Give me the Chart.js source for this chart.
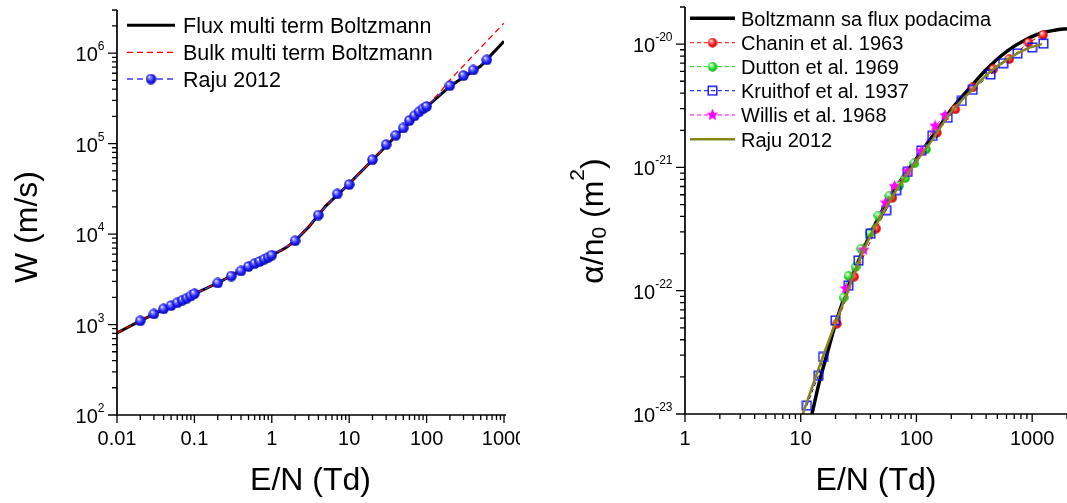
<!DOCTYPE html>
<html>
<head>
<meta charset="utf-8">
<script src="https://cdn.jsdelivr.net/npm/chart.js@4.4.0/dist/chart.umd.min.js"></script>
<style>
  html, body { margin: 0; padding: 0; background: #fff; }
  #wrap { position: relative; width: 1067px; height: 503px; overflow: hidden; background: #fff; }
  #left { position: absolute; left: 0; top: 0; }
  #right { position: absolute; left: 520px; top: 0; }
</style>
</head>
<body>
<div id="wrap">
  <canvas id="left" width="520" height="503"></canvas>
  <canvas id="right" width="547" height="503"></canvas>
</div>
<script>
// ---- left panel: drift velocity W vs E/N ----
const wEN = [0.01, 0.02, 0.05, 0.1, 0.2, 0.5, 1, 1.5, 2, 3, 5, 10, 20, 50, 100, 150, 200, 500, 1000];
const wFlux = [810, 1100, 1620, 2180, 2880, 4370, 5850, 7000, 8400, 12000, 20500, 36000, 66000, 148000, 255000, 346000, 430000, 720000, 1350000];
const wBulk = [810, 1100, 1620, 2180, 2880, 4370, 5850, 7000, 8400, 12000, 20500, 36000, 66000, 148000, 258000, 375000, 505000, 1150000, 2150000];

const rajuWEN = [0.02, 0.03, 0.04, 0.05, 0.06, 0.07, 0.08, 0.09, 0.1, 0.2, 0.3, 0.4, 0.5, 0.6, 0.7, 0.8, 0.9, 1,
  2, 4, 7, 10, 20, 30, 40, 50, 60, 70, 80, 90, 100, 200, 300, 400, 600];
const rajuW = [1100, 1310, 1490, 1620, 1740, 1860, 1960, 2070, 2190, 2880, 3440, 3910, 4380, 4720, 4980, 5280, 5550, 5850,
  8430, 16250, 27800, 35300, 66400, 97500, 123600, 149000, 180000, 203000, 225000, 243000, 258000, 438000, 565000, 652000, 843000];

// ---- right panel: ionization coefficient alpha/n0 vs E/N ----
const boltzEN = [12.5, 14.4, 16.6, 20, 25, 30, 40, 60, 100, 150, 200, 300, 400, 600, 900, 1200, 1600, 2000];
const boltzA = [1e-23, 1.78e-23, 2.9e-23, 5.4e-23, 1.0e-22, 1.55e-22, 2.9e-22, 5.9e-22, 1.18e-21, 2.0e-21, 2.95e-21, 4.6e-21,
  6.2e-21, 8.7e-21, 1.1e-20, 1.23e-20, 1.3e-20, 1.335e-20];

const chaninEN = [20.5, 29, 45, 62, 150, 217, 306, 461, 634, 929, 1245];
const chaninA = [5.4e-23, 1.3e-22, 3.19e-22, 5.67e-22, 1.91e-21, 2.96e-21, 4.45e-21, 6.26e-21, 7.55e-21, 1.03e-20, 1.19e-20];

const duttonEN = [23.5, 25.9, 29.8, 33.3, 39.4, 47, 58.5, 71, 80, 96, 121];
const duttonA = [8.8e-23, 1.32e-22, 1.56e-22, 2.19e-22, 2.94e-22, 4.07e-22, 5.9e-22, 7.1e-22, 8.2e-22, 1.08e-21, 1.4e-21];

const kruithofEN = [11.3, 14.2, 15.6, 20, 25.8, 31.6, 40.1, 54.8, 66.8, 84, 110, 137, 186, 246, 306, 436, 562, 747, 1000, 1250];
const kruithofA = [1.17e-23, 2.04e-23, 2.9e-23, 5.74e-23, 1.1e-22, 1.76e-22, 2.9e-22, 4.5e-22, 6.55e-22, 9.2e-22, 1.37e-21,
  1.8e-21, 2.53e-21, 3.46e-21, 4.26e-21, 5.68e-21, 7.0e-21, 8.42e-21, 9.4e-21, 1.01e-20];

const willisEN = [24.5, 35, 54, 64.7, 84, 110, 145, 177];
const willisA = [1.04e-22, 2.14e-22, 5.16e-22, 7.05e-22, 9.3e-22, 1.36e-21, 2.17e-21, 2.64e-21];

const rajuAEN = [10, 15.5, 20, 25, 30, 40, 50, 70, 100, 140, 192, 306, 426, 593, 883, 1205];
const rajuA = [9e-24, 2.9e-23, 5.5e-23, 9.5e-23, 1.5e-22, 2.8e-22, 4.1e-22, 7.0e-22, 1.12e-21, 1.72e-21, 2.7e-21, 4.3e-21,
  5.89e-21, 7.38e-21, 9.1e-21, 1.0e-20];

const FONT = '"Liberation Sans", Arial, sans-serif';
const font = size => size + 'px ' + FONT;
const pts = (xs, ys) => xs.map((x, i) => ({ x: x, y: ys[i] }));

// marker images
function ball(base, light, dark, d) {
  const c = document.createElement('canvas');
  c.width = c.height = d;
  const g = c.getContext('2d');
  const r = d / 2;
  const grad = g.createRadialGradient(r - r * 0.35, r - r * 0.4, r * 0.05, r, r, r);
  grad.addColorStop(0, '#ffffff');
  grad.addColorStop(0.22, light);
  grad.addColorStop(0.6, base);
  grad.addColorStop(1, dark);
  g.fillStyle = grad;
  g.beginPath(); g.arc(r, r, r - 0.3, 0, Math.PI * 2); g.fill();
  return c;
}
function star(color, d) {
  const c = document.createElement('canvas');
  c.width = c.height = d;
  const g = c.getContext('2d');
  const r = d / 2, ri = r * 0.45;
  g.fillStyle = color;
  g.beginPath();
  for (let i = 0; i < 10; i++) {
    const a = -Math.PI / 2 + i * Math.PI / 5;
    const rr = i % 2 ? ri : r - 0.3;
    g.lineTo(r + rr * Math.cos(a), r + rr * Math.sin(a));
  }
  g.closePath(); g.fill();
  return c;
}
function square(color, d) {
  const c = document.createElement('canvas');
  c.width = c.height = d;
  const g = c.getContext('2d');
  g.strokeStyle = color; g.lineWidth = 1.3;
  g.strokeRect(1.2, 1.2, d - 2.4, d - 2.4);
  return c;
}
const blueBall = ball('#2222ff', '#8a8aff', '#0000a8', 11);
const redBall = ball('#ff1a1a', '#ff9a9a', '#c00000', 10);
const greenBall = ball('#22e022', '#b0ffb0', '#00a000', 10);
const magStar = star('#ff00ff', 13);
const blueSq = square('#0000ff', 11);

function drawRich(ctx, parts, x, y, align) {
  let w = 0;
  parts.forEach(p => { ctx.font = font(p.size); p.w = ctx.measureText(p.t).width; w += p.w; });
  let cx = align === 'right' ? x - w : align === 'center' ? x - w / 2 : x;
  ctx.textAlign = 'left';
  ctx.textBaseline = 'alphabetic';
  parts.forEach(p => { ctx.font = font(p.size); ctx.fillText(p.t, cx, y + (p.dy || 0)); cx += p.w; });
}

// axes with major/minor log ticks, labels and titles
const logAxes = {
  id: 'logAxes',
  afterDatasetsDraw(chart, args, o) {
    const ctx = chart.ctx;
    const { left, right, top, bottom } = chart.chartArea;
    const xs = chart.scales.x, ys = chart.scales.y;
    ctx.save();
    ctx.strokeStyle = '#000';
    ctx.fillStyle = '#000';
    ctx.lineWidth = 1.7;
    ctx.beginPath();
    ctx.moveTo(left, top); ctx.lineTo(left, bottom); ctx.lineTo(right + 2, bottom);
    ctx.stroke();
    ctx.lineWidth = 1.3;
    ctx.beginPath();
    for (let e = o.xDec[0]; e <= o.xDec[1]; e++) {
      for (let m = 1; m <= 9; m++) {
        const v = m * Math.pow(10, e);
        if (v < xs.min * 0.999 || v > xs.max * 1.001) continue;
        const px = xs.getPixelForValue(v);
        ctx.moveTo(px, bottom); ctx.lineTo(px, bottom + (m === 1 ? 8 : 5));
      }
    }
    for (let e = o.yDec[0]; e <= o.yDec[1]; e++) {
      for (let m = 1; m <= 9; m++) {
        const v = m * Math.pow(10, e);
        if (v < ys.min * 0.999 || v > ys.max * 1.001) continue;
        const py = ys.getPixelForValue(v);
        ctx.moveTo(left, py); ctx.lineTo(left - (m === 1 ? 9 : 5), py);
      }
    }
    ctx.stroke();
    // x tick labels
    ctx.font = font(20);
    ctx.textAlign = 'center';
    ctx.textBaseline = 'alphabetic';
    o.xLabels.forEach(l => ctx.fillText(l[1], xs.getPixelForValue(l[0]), 445));
    // y tick labels 10^n
    for (let e = o.yDec[0]; e <= o.yDec[1]; e++) {
      const py = ys.getPixelForValue(Math.pow(10, e));
      drawRich(ctx, [{ t: '10', size: 20, dy: 8 }, { t: String(e), size: 12, dy: -3 }], left - 12.5, py, 'right');
    }
    // x title
    drawRich(ctx, [{ t: 'E/N (Td)', size: 32 }], (left + o.titleRight) / 2, 490, 'center');
    // y title, rotated
    ctx.translate(o.yTitleX, o.yTitleY);
    ctx.rotate(-Math.PI / 2);
    drawRich(ctx, o.yTitle, 0, 0, 'center');
    ctx.restore();
  }
};

const legendBox = {
  id: 'legendBox',
  afterDraw(chart, args, o) {
    const ctx = chart.ctx;
    ctx.save();
    o.items.forEach((it, i) => {
      const y = o.rows[i];
      ctx.strokeStyle = it.color;
      ctx.lineWidth = it.width;
      ctx.setLineDash(it.dash || []);
      ctx.beginPath(); ctx.moveTo(o.x1, y); ctx.lineTo(o.x2, y); ctx.stroke();
      ctx.setLineDash([]);
      if (it.marker) {
        const m = it.marker;
        ctx.drawImage(m, (o.x1 + o.x2) / 2 - m.width / 2, y - m.height / 2);
      }
      ctx.fillStyle = '#000';
      ctx.font = font(o.size);
      ctx.textAlign = 'left';
      ctx.textBaseline = 'alphabetic';
      ctx.fillText(it.text, o.tx, y + o.size * 0.36);
    });
    ctx.restore();
  }
};

const baseOpts = {
  responsive: false,
  animation: false,
  events: []
};

new Chart(document.getElementById('left'), {
  type: 'scatter',
  data: {
    datasets: [
      { label: 'Raju 2012', data: pts(rajuWEN, rajuW), showLine: true, borderColor: '#3a3aff', borderWidth: 1.2,
        borderDash: [5, 4], pointStyle: blueBall, pointRadius: 5.5, order: 0 },
      { label: 'Bulk multi term Boltzmann', data: pts(wEN, wBulk), showLine: true, borderColor: '#ff0000', borderWidth: 1.3,
        borderDash: [6, 4], pointRadius: 0, order: 1 },
      { label: 'Flux multi term Boltzmann', data: pts(wEN, wFlux), showLine: true, borderColor: '#000000', borderWidth: 3,
        pointRadius: 0, order: 2 }
    ]
  },
  options: Object.assign({}, baseOpts, {
    layout: { autoPadding: false, padding: { left: 117, right: 16, top: 10, bottom: 88 } },
    scales: {
      x: { type: 'logarithmic', min: 0.01, max: 1000, display: false },
      y: { type: 'logarithmic', min: 100, max: 3e6, display: false }
    },
    plugins: {
      legend: { display: false },
      tooltip: { enabled: false },
      logAxes: {
        xDec: [-2, 3], yDec: [2, 6],
        xLabels: [[0.01, '0.01'], [0.1, '0.1'], [1, '1'], [10, '10'], [100, '100'], [1000, '1000']],
        titleRight: 504,
        yTitleX: 37, yTitleY: 227,
        yTitle: [{ t: 'W (m/s)', size: 32 }]
      },
      legendBox: {
        x1: 127, x2: 175, tx: 183, size: 21.5, rows: [25.3, 52.3, 79],
        items: [
          { text: 'Flux multi term Boltzmann', color: '#000', width: 3 },
          { text: 'Bulk multi term Boltzmann', color: '#ff0000', width: 1.3, dash: [6, 4] },
          { text: 'Raju 2012', color: '#3a3aff', width: 1.3, dash: [6, 4], marker: blueBall }
        ]
      }
    }
  }),
  plugins: [logAxes, legendBox]
});

new Chart(document.getElementById('right'), {
  type: 'scatter',
  data: {
    datasets: [
      { label: 'Raju 2012', data: pts(rajuAEN, rajuA), showLine: true, borderColor: '#85851a', borderWidth: 2.5,
        pointRadius: 0, cubicInterpolationMode: 'monotone', order: 0 },
      { label: 'Willis et al. 1968', data: pts(willisEN, willisA), showLine: true, borderColor: '#ff00ff', borderWidth: 1,
        borderDash: [4, 3], pointStyle: magStar, pointRadius: 6, order: 1 },
      { label: 'Kruithof et al. 1937', data: pts(kruithofEN, kruithofA), showLine: true, borderColor: '#0000ff', borderWidth: 1,
        borderDash: [4, 3], pointStyle: blueSq, pointRadius: 5, order: 2 },
      { label: 'Dutton et al. 1969', data: pts(duttonEN, duttonA), showLine: true, borderColor: '#00dd00', borderWidth: 1,
        borderDash: [4, 3], pointStyle: greenBall, pointRadius: 5, order: 3 },
      { label: 'Chanin et al. 1963', data: pts(chaninEN, chaninA), showLine: true, borderColor: '#ff0000', borderWidth: 1,
        borderDash: [4, 3], pointStyle: redBall, pointRadius: 5, order: 4 },
      { label: 'Boltzmann sa flux podacima', data: pts(boltzEN, boltzA), showLine: true, borderColor: '#000000', borderWidth: 3.5,
        pointRadius: 0, cubicInterpolationMode: 'monotone', order: 5 }
    ]
  },
  options: Object.assign({}, baseOpts, {
    layout: { autoPadding: false, padding: { left: 165, right: 0, top: 7, bottom: 89 } },
    scales: {
      x: { type: 'logarithmic', min: 1, max: 2000, display: false },
      y: { type: 'logarithmic', min: 1e-23, max: 2e-20, display: false }
    },
    plugins: {
      legend: { display: false },
      tooltip: { enabled: false },
      logAxes: {
        xDec: [0, 3], yDec: [-23, -20],
        xLabels: [[1, '1'], [10, '10'], [100, '100'], [1000, '1000']],
        titleRight: 547,
        yTitleX: 83, yTitleY: 221,
        yTitle: [{ t: '\u03b1/n', size: 32 }, { t: '0', size: 21, dy: 3 }, { t: ' (m', size: 32 },
                 { t: '2', size: 21, dy: -19 }, { t: ')', size: 32 }]
      },
      legendBox: {
        x1: 170, x2: 215, tx: 221, size: 20, rows: [18.3, 42.7, 66.7, 90.7, 115, 139.3],
        items: [
          { text: 'Boltzmann sa flux podacima', color: '#000', width: 3.5 },
          { text: 'Chanin et al. 1963', color: '#ff0000', width: 1, dash: [4, 3], marker: redBall },
          { text: 'Dutton et al. 1969', color: '#00dd00', width: 1, dash: [4, 3], marker: greenBall },
          { text: 'Kruithof et al. 1937', color: '#0000ff', width: 1, dash: [4, 3], marker: blueSq },
          { text: 'Willis et al. 1968', color: '#ff00ff', width: 1, dash: [4, 3], marker: magStar },
          { text: 'Raju 2012', color: '#85851a', width: 2.5 }
        ]
      }
    }
  }),
  plugins: [logAxes, legendBox]
});
</script>
</body>
</html>
